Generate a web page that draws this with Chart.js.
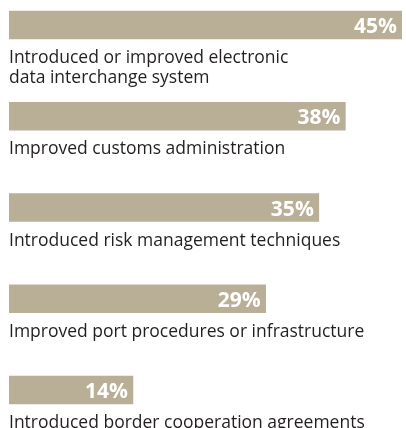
<!DOCTYPE html>
<html>
<head>
<meta charset="utf-8">
<script src="https://cdn.jsdelivr.net/npm/chart.js@4/dist/chart.umd.min.js"></script>
<style>
    html, body { margin: 0; padding: 0; background: #fff; }
    #wrap { width: 406px; height: 428px; position: relative; }
</style>
</head>
<body>
<div id="wrap"><canvas id="myChart"></canvas></div>
<script>
const categories = [
    ["Introduced or improved electronic", "data interchange system"],
    "Improved customs administration",
    "Introduced risk management techniques",
    "Improved port procedures or infrastructure",
    "Introduced border cooperation agreements",
];
const shares = [45, 38, 35, 29, 14];
const valueLabels = ["45%", "38%", "35%", "29%", "14%"];

const barColor = "#b9af97";
const textColor = "#231f20";

// labels under each bar + value inside the bar end
const barText = {
    id: "barText",
    afterDatasetsDraw(chart) {
        const ctx = chart.ctx;
        const area = chart.chartArea;
        const meta = chart.getDatasetMeta(0);
        ctx.save();
        meta.data.forEach((bar, i) => {
            const bottom = bar.y + bar.height / 2;
            const right = Math.min(bar.x, area.right);

            ctx.fillStyle = "#fff";
            ctx.font = "bold 21px 'Open Sans'";
            ctx.textAlign = "right";
            ctx.textBaseline = "alphabetic";
            ctx.fillText(valueLabels[i], right - 5, bottom - 6);

            ctx.fillStyle = textColor;
            ctx.font = "17.5px 'Open Sans'";
            ctx.textAlign = "left";
            const lines = Array.isArray(categories[i]) ? categories[i] : [categories[i]];
            lines.forEach((line, j) => {
                ctx.fillText(line, area.left, bottom + 24 + j * 20);
            });
        });
        ctx.restore();
    },
};

const data = {
    labels: categories,
    datasets: [
        {
            data: shares,
            backgroundColor: barColor,
            borderWidth: 0,
            barThickness: 28,
            clip: { left: 0, top: false, right: 0, bottom: false },
        },
    ],
};

const config = {
    type: "bar",
    data: data,
    options: {
        indexAxis: "y",
        responsive: true,
        maintainAspectRatio: false,
        animation: false,
        layout: { padding: { left: 9, right: 4, top: 25, bottom: 38 } },
        plugins: { legend: { display: false }, tooltip: { enabled: false } },
        scales: {
            x: { display: false, min: 0, max: 44.4 },
            y: { display: false, offset: false },
        },
    },
    plugins: [barText],
};

const myChart = new Chart(document.getElementById("myChart"), config);
</script>
</body>
</html>
